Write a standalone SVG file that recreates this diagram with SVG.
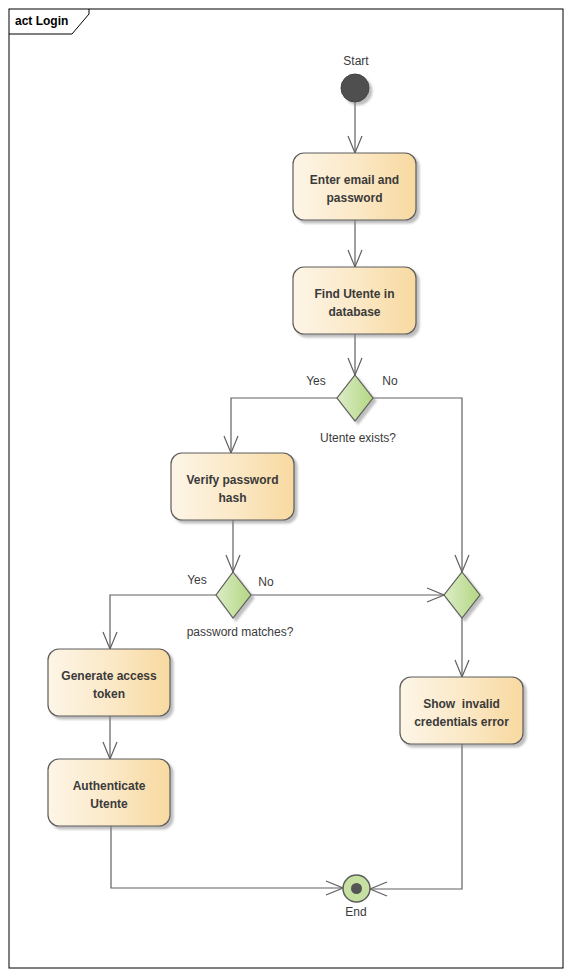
<svg xmlns="http://www.w3.org/2000/svg" width="571" height="977" viewBox="0 0 571 977">
<style>
.frame{fill:none;stroke:#000;stroke-width:1}
.box{fill:url(#gBox);stroke:#5c5c5c;stroke-width:1.2;filter:url(#sh)}
.dia{fill:url(#gDia);stroke:#5c5c5c;stroke-width:1.2;filter:url(#sh)}
.bt{font-family:"Liberation Sans",Arial,sans-serif;font-size:12px;font-weight:bold;fill:#3a3a3a;text-anchor:middle;white-space:pre}
.lt{font-family:"Liberation Sans",Arial,sans-serif;font-size:12px;fill:#3a3a3a;text-anchor:middle}
.title{font-family:"Liberation Sans",Arial,sans-serif;font-size:12px;font-weight:bold;fill:#000}
.con{fill:none;stroke:#606060;stroke-width:1.2;marker-end:url(#arr)}
</style>
<defs>
<linearGradient id="gBox" x1="0" y1="0" x2="1" y2="0">
<stop offset="0" stop-color="#fdf5e7"/>
<stop offset="0.5" stop-color="#fbe9c8"/>
<stop offset="1" stop-color="#f8d9a0"/>
</linearGradient>
<linearGradient id="gDia" x1="0" y1="0" x2="1" y2="0">
<stop offset="0" stop-color="#dcedc6"/>
<stop offset="1" stop-color="#b3d682"/>
</linearGradient>
<filter id="sh" x="-20%" y="-20%" width="150%" height="150%">
<feDropShadow dx="3" dy="3" stdDeviation="1.2" flood-color="#888" flood-opacity="0.55"/>
</filter>
<marker id="arr" markerUnits="userSpaceOnUse" markerWidth="20" markerHeight="16" viewBox="-18 -8 20 16" refX="0" refY="0" orient="auto">
<path d="M-17,-7 L0,0 L-17,7" fill="none" stroke="#606060" stroke-width="1.2"/>
</marker>
</defs>
<rect width="571" height="977" fill="#fff"/>
<g id="frame">
<rect class="frame" x="9" y="9" width="554" height="959"/>
<path class="frame" d="M9,34 L72,34 L89,14 L89,9"/>
<text class="title" x="15" y="25">act Login</text>
</g>
<g id="connectors">
<path class="con" d="M355,102 L355,153"/>
<path class="con" d="M355,220 L355,267"/>
<path class="con" d="M355,334 L355,375"/>
<path class="con" d="M337,398 L231,398 L231,453"/>
<path class="con" d="M373,398 L462,398 L462,572"/>
<path class="con" d="M233,520 L233,572"/>
<path class="con" d="M216,595 L110,595 L110,649"/>
<path class="con" d="M251,595 L444,595"/>
<path class="con" d="M462,618 L462,677"/>
<path class="con" d="M110,716 L110,759"/>
<path class="con" d="M111,826 L111,888 L343,888"/>
<path class="con" d="M462,744 L462,889 L370,889"/>
<text class="lt" x="316" y="385">Yes</text>
<text class="lt" x="390" y="385">No</text>
<text class="lt" x="197" y="584">Yes</text>
<text class="lt" x="266" y="586">No</text>
</g>
<g id="start">
<circle cx="355" cy="88" r="14" fill="#4f4f4f" stroke="#444" filter="url(#sh)"/>
<text class="lt" x="356" y="65">Start</text>
</g>
<g id="enter">
<rect class="box" x="293" y="153" width="123" height="67" rx="11"/>
<text class="bt" x="354.5" y="184">Enter email and</text>
<text class="bt" x="354.5" y="202">password</text>
</g>
<g id="find">
<rect class="box" x="293" y="267" width="123" height="67" rx="11"/>
<text class="bt" x="354.5" y="298">Find Utente in</text>
<text class="bt" x="354.5" y="316">database</text>
</g>
<g id="d1">
<polygon class="dia" points="355,375 373,398 355,421 337,398"/>
<text class="lt" x="358" y="442">Utente exists?</text>
</g>
<g id="verify">
<rect class="box" x="171" y="453" width="123" height="67" rx="11"/>
<text class="bt" x="232.5" y="484">Verify password</text>
<text class="bt" x="232.5" y="502">hash</text>
</g>
<g id="d2">
<polygon class="dia" points="233,572 251,595 233,618 216,595"/>
<text class="lt" x="240" y="636">password matches?</text>
</g>
<g id="merge">
<polygon class="dia" points="462,572 480,595 462,618 444,595"/>
</g>
<g id="generate">
<rect class="box" x="48" y="649" width="122" height="67" rx="11"/>
<text class="bt" x="109" y="680">Generate access</text>
<text class="bt" x="109" y="698">token</text>
</g>
<g id="show">
<rect class="box" x="400" y="677" width="123" height="67" rx="11"/>
<text class="bt" x="461.5" y="708">Show  invalid</text>
<text class="bt" x="461.5" y="726">credentials error</text>
</g>
<g id="auth">
<rect class="box" x="48" y="759" width="122" height="67" rx="11"/>
<text class="bt" x="109" y="790">Authenticate</text>
<text class="bt" x="109" y="808">Utente</text>
</g>
<g id="end">
<circle cx="356.5" cy="888.5" r="13.5" fill="#c6e0a2" stroke="#5c5c5c" stroke-width="1.5"/>
<circle cx="356.5" cy="888.5" r="5.5" fill="#555"/>
<text class="lt" x="356" y="916">End</text>
</g>
</svg>
